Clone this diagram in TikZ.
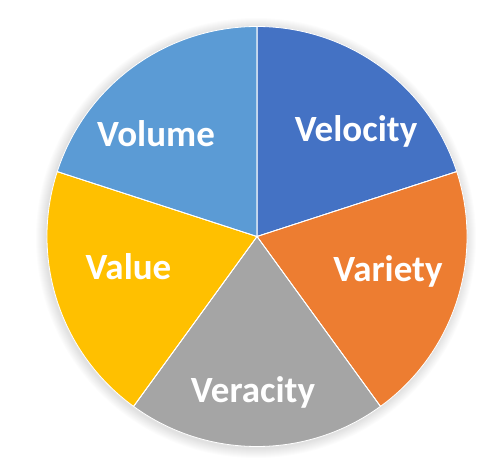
\documentclass[tikz,border=0pt]{standalone}
\usepackage{fontspec}
\setmainfont{Carlito}
\definecolor{cVolume}{HTML}{5B9BD5}
\definecolor{cVelocity}{HTML}{4472C4}
\definecolor{cVariety}{HTML}{ED7D31}
\definecolor{cVeracity}{HTML}{A5A5A5}
\definecolor{cValue}{HTML}{FFC000}
\tikzset{
  slice/.style={draw=white, line width=0.8pt, line join=round},
  lbl/.style={text=white, font=\bfseries\fontsize{37}{44}\selectfont, anchor=base, inner sep=0pt}
}
\begin{document}
\begin{tikzpicture}[x=1pt,y=1pt]
\useasboundingbox (0,0) rectangle (500,471);
\coordinate (c) at (257,234.5);
% soft shadow
\foreach \i in {1,...,10}{
  \fill[black, opacity=0.012] (256,233) circle ({210+\i});
}
\def\R{210}
\fill[slice, fill=cVelocity] (c) -- ++(90:\R) arc[start angle=90, end angle=18, radius=\R] -- cycle;
\fill[slice, fill=cVariety] (c) -- ++(18:\R) arc[start angle=18, end angle=-54, radius=\R] -- cycle;
\fill[slice, fill=cVeracity] (c) -- ++(-54:\R) arc[start angle=-54, end angle=-126, radius=\R] -- cycle;
\fill[slice, fill=cValue] (c) -- ++(-126:\R) arc[start angle=-126, end angle=-198, radius=\R] -- cycle;
\fill[slice, fill=cVolume] (c) -- ++(162:\R) arc[start angle=162, end angle=90, radius=\R] -- cycle;
\draw[slice] (c) -- ++(90:\R) (c) -- ++(18:\R) (c) -- ++(-54:\R) (c) -- ++(-126:\R) (c) -- ++(162:\R);
\node[lbl] (volume) at (156,471-147) {Volume};
\node[lbl] (velocity) at (356,471-142) {Velocity};
\node[lbl] (value) at (128.5,471-280) {Value};
\node[lbl] (variety) at (388,471-282) {Variety};
\node[lbl] (veracity) at (253,471-402) {Veracity};
\end{tikzpicture}
\end{document}
